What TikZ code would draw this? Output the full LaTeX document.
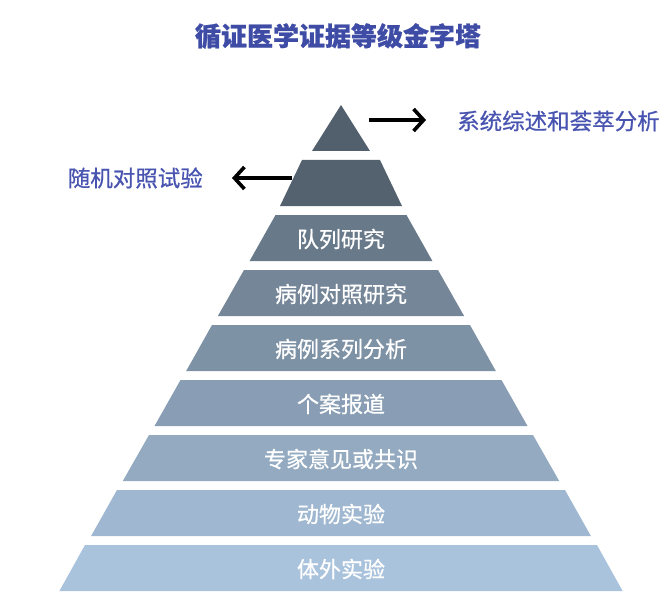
\documentclass[tikz,border=0pt]{standalone}
\usepackage{fontspec}
\newfontfamily\cjk{Noto Sans CJK SC}
\newfontfamily\cjkt[BoldFeatures={FakeBold=0.8}]{Noto Sans CJK SC}
\newfontfamily\cjkm[FakeBold=0.7]{Noto Sans CJK SC}
\usetikzlibrary{arrows.meta}
\definecolor{titleblue}{RGB}{62,76,166}
\definecolor{labelblue}{RGB}{72,84,176}
\definecolor{ptop}{RGB}{82,96,110}
\definecolor{pbot}{RGB}{170,195,221}
\tikzset{
  lvltext/.style={text=white, font=\cjkm\fontsize{22}{25}\selectfont, inner sep=0pt},
  sidelabel/.style={text=labelblue, font=\cjkm\fontsize{22.5}{25}\selectfont, inner sep=0pt},
  pointer/.style={line width=3.6pt, -{Straight Barb[length=10pt,width=22pt,line width=3.6pt]}}
}
\newcommand\pyrlevel[3]{% index, top half-width, text
  \pgfmathsetmacro\ytop{105+55*(#1-1)}
  \pgfmathsetmacro\ybot{\ytop+46}
  \pgfmathsetmacro\bw{28+31.7*(#1-1)}
  \pgfmathsetmacro\tw{#2}
  \pgfmathtruncatemacro\mixv{100-100*(#1-1)/8}
  \fill[ptop!\mixv!pbot] (341-\tw,\ytop) -- (341+\tw,\ytop) -- (341+\bw,\ybot) -- (341-\bw,\ybot) -- cycle;
  \node[lvltext] (L#1) at (341,\ytop+24) {#3};
}
\begin{document}
\begin{tikzpicture}[x=1pt,y=-1pt]
\useasboundingbox (0,0) rectangle (672,615);
\node[font=\cjkt\bfseries\fontsize{26}{30}\selectfont, text=titleblue, inner sep=0pt] (title) at (338,36) {循证医学证据等级金字塔};
% top triangle and second level (no text)
\fill[ptop] (341,105) -- (370,151) -- (312,151) -- cycle;
\fill[ptop!98!pbot] (302,160) -- (380,160) -- (402,206) -- (280,206) -- cycle;
\pyrlevel{3}{65.5}{队列研究}
\pyrlevel{4}{97}{病例对照研究}
\pyrlevel{5}{129}{病例系列分析}
\pyrlevel{6}{160.5}{个案报道}
\pyrlevel{7}{192}{专家意见或共识}
\pyrlevel{8}{224}{动物实验}
\pyrlevel{9}{256}{体外实验}
% side labels and arrows
\node[sidelabel, anchor=west] (sr) at (457,121) {系统综述和荟萃分析};
\node[sidelabel, anchor=east] (rctlab) at (203,178) {随机对照试验};
\coordinate (sra) at (369,120);
\coordinate (srb) at (426,120);
\coordinate (rcta) at (292,178);
\coordinate (rctb) at (232,178);
\draw[pointer] (sra) -- (srb);
\draw[pointer] (rcta) -- (rctb);
\end{tikzpicture}
\end{document}
